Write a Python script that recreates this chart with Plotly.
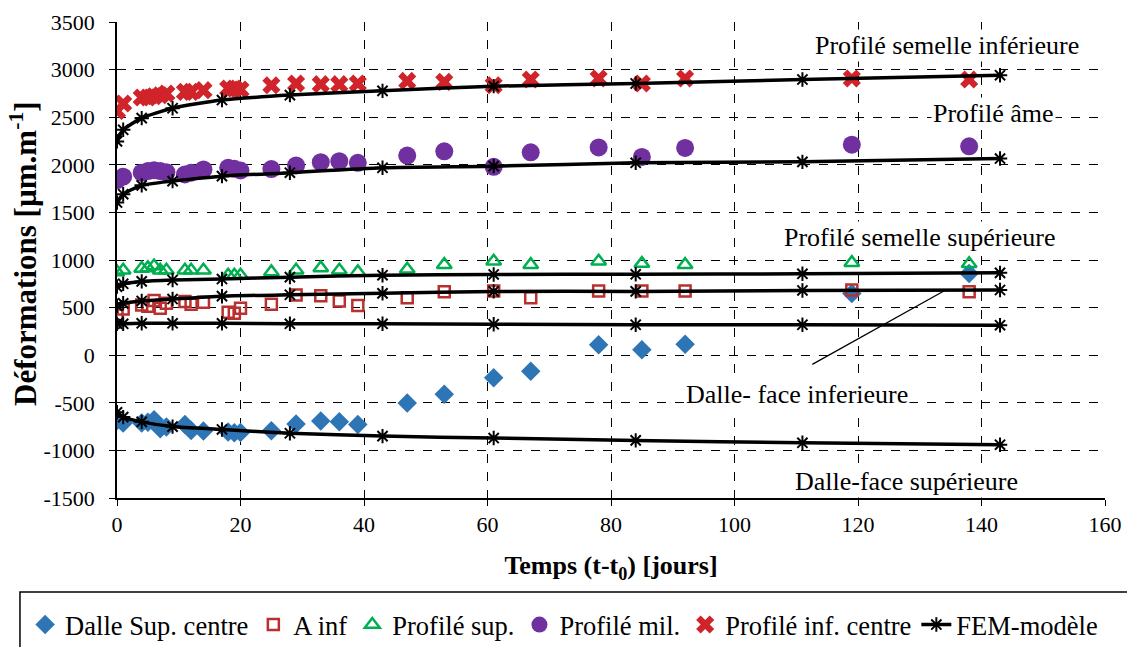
import plotly.graph_objects as go

# ---- data ----
days = [0, 1, 4, 5, 6, 7, 8, 11, 12, 14, 18, 19, 20, 25, 29, 33, 36, 39,
        47, 53, 61, 67, 78, 85, 92, 119, 138]

dalle_sup_centre = [-685, -713, -713, -703, -678, -773, -755, -727, -790, -797,
                    -807, -815, -811, -794, -724, -690, -700, -728, -502, -411,
                    -238, -169, 109, 57, 116, 649, 858]
a_inf = [423, 485, 527, 514, 575, 493, 545, 563, 534, 555, 451, 441, 493, 534,
         632, 625, 569, 521, 604, 667, 674, 604, 674, 674, 674, 684, 667]
profile_sup = [875, 892, 910, 917, 937, 892, 892, 892, 892, 892, 840, 840, 840,
               875, 892, 917, 892, 875, 903, 951, 986, 951, 986, 962, 951, 972, 960]
profile_mil = [1840, 1875, 1917, 1934, 1944, 1934, 1923, 1899, 1917, 1951, 1969,
               1958, 1940, 1955, 1993, 2027, 2038, 2021, 2097, 2142, 1979, 2131,
               2183, 2083, 2177, 2211, 2194]
profile_inf_centre = [2566, 2644, 2707, 2707, 2720, 2731, 2749, 2766, 2766, 2784,
                      2801, 2801, 2790, 2836, 2854, 2847, 2847, 2854, 2881, 2871,
                      2836, 2896, 2906, 2854, 2906, 2906, 2896]

fem_days = [0, 1, 4, 9, 17, 28, 43, 61, 84, 111, 143]
fem_inf = [2246, 2368, 2490, 2594, 2680, 2732, 2777, 2826, 2854, 2896, 2941]
fem_ame = [1604, 1691, 1784, 1829, 1881, 1917, 1969, 1986, 2021, 2031, 2066]
fem_sup = [720, 750, 775, 790, 800, 820, 840, 848, 850, 855, 865]
fem_ainf = [520, 545, 570, 590, 620, 635, 650, 670, 670, 680, 685]
fem_dalle_inf = [330, 330, 335, 335, 335, 330, 330, 325, 320, 320, 315]
fem_dalle_sup = [-600, -650, -700, -750, -780, -820, -850, -870, -895, -920, -940]

x_ticks = [0, 20, 40, 60, 80, 100, 120, 140, 160]
y_ticks = [-1500, -1000, -500, 0, 500, 1000, 1500, 2000, 2500, 3000, 3500]
y_ticktext = ["-1500", "-1000", "-500", "0", "500", "1000", "1500", "2000",
              "2500", "3000", "3500"]

labels = [
    ("Profilé semelle inférieure", 134.4, 3253),
    ("Profilé âme", 141.9, 2534),
    ("Profilé semelle supérieure", 130.0, 1232),
    ("Dalle- face inferieure", 110.1, -408),
    ("Dalle-face supérieure", 127.8, -1325),
]
leader = ([112.6, 134.2], [-96, 685])

FONT = "Liberation Serif"

fig = go.Figure()

fig.add_trace(go.Scatter(
    x=days, y=dalle_sup_centre, mode="markers", name="Dalle Sup. centre",
    marker=dict(symbol="diamond", size=15, color="#2E75B6")))
fig.add_trace(go.Scatter(
    x=days, y=a_inf, mode="markers", name="A inf",
    marker=dict(symbol="square-open", size=11, color="#B8312F",
                line=dict(width=2.5, color="#B8312F"))))
fig.add_trace(go.Scatter(
    x=days, y=profile_sup, mode="markers", name="Profilé sup.",
    marker=dict(symbol="triangle-up-open", size=13, color="#00B050",
                line=dict(width=2.5, color="#00B050"))))
fig.add_trace(go.Scatter(
    x=days, y=profile_mil, mode="markers", name="Profilé mil.",
    marker=dict(symbol="circle", size=18, color="#7030A0")))
fig.add_trace(go.Scatter(
    x=days, y=profile_inf_centre, mode="markers", name="Profilé inf. centre",
    marker=dict(symbol="x", size=16, color="#D0232A", line=dict(width=0))))

fx, fy = [], []
for series in (fem_inf, fem_ame, fem_sup, fem_ainf, fem_dalle_inf, fem_dalle_sup):
    fx += fem_days + [None]
    fy += series + [None]
fig.add_trace(go.Scatter(
    x=fx, y=fy, mode="lines+markers", name="FEM-modèle", connectgaps=False,
    line=dict(color="black", width=3.5, shape="spline", smoothing=0.6),
    marker=dict(symbol="asterisk-open", size=12, color="black",
                line=dict(width=2, color="black"))))

fig.add_trace(go.Scatter(
    x=leader[0], y=leader[1], mode="lines", showlegend=False, hoverinfo="skip",
    line=dict(color="black", width=1.3)))

for txt, x, y in labels:
    fig.add_annotation(x=x, y=y, text=txt, showarrow=False,
                       font=dict(family=FONT, size=26, color="black"),
                       bgcolor="white", borderpad=1)

# y-axis title placed as in the reference
fig.add_annotation(xref="paper", yref="paper", x=-0.094, y=0.513,
                   text="<b>Déformations [µm.m<sup>-1</sup>]</b>", textangle=-90,
                   showarrow=False, xanchor="center", yanchor="middle",
                   font=dict(family=FONT, size=31, color="black"))

# legend frame (runs off the right and bottom edges, as in the reference)
fig.add_shape(type="rect", xref="paper", yref="paper",
              x0=-0.0982, x1=1.1, y0=-0.34, y1=-0.1975,
              line=dict(color="black", width=1.5), fillcolor="rgba(0,0,0,0)",
              layer="above")

fig.update_xaxes(
    range=[0, 160], tickmode="array", tickvals=x_ticks,
    ticktext=[str(v) for v in x_ticks],
    showgrid=True, gridcolor="black", gridwidth=1, griddash="dash",
    zeroline=False, showline=True, linecolor="black", linewidth=1.5,
    ticks="outside", ticklen=6, tickcolor="black", automargin=False,
    tickfont_family=FONT, tickfont_size=22, tickfont_color="black",
    title_text="<b>Temps (t-t<sub>0</sub>) [jours]</b>",
    title_font_family=FONT, title_font_size=26, title_font_color="black",
    title_standoff=20)
fig.update_yaxes(
    range=[-1500, 3500], tickmode="array", tickvals=y_ticks, ticktext=y_ticktext,
    showgrid=True, gridcolor="black", gridwidth=1, griddash="dash",
    zeroline=False, showline=True, linecolor="black", linewidth=1.5,
    ticks="outside", ticklen=6, tickcolor="black", automargin=False,
    ticklabelstandoff=10,
    tickfont_family=FONT, tickfont_size=22, tickfont_color="black")

fig.update_layout(
    width=1127, height=639,
    margin=dict(l=109, r=30, t=14, b=149, autoexpand=False),
    paper_bgcolor="white", plot_bgcolor="white",
    font=dict(family=FONT, size=22, color="black"),
    legend=dict(orientation="h", x=-0.093, xanchor="left", y=-0.216, yanchor="top",
                borderwidth=0, bgcolor="rgba(0,0,0,0)",
                font=dict(family=FONT, size=26.5, color="black"),
                itemwidth=30, tracegroupgap=0),
)

fig.write_html("out.html")
